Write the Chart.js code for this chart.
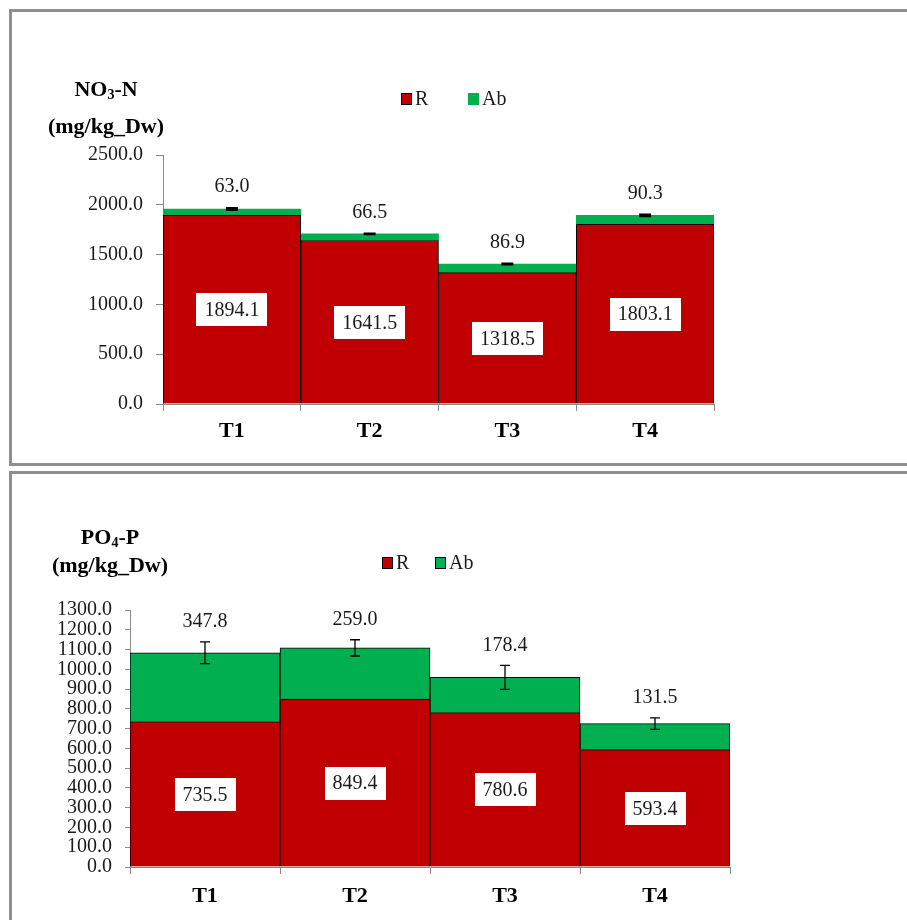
<!DOCTYPE html>
<html>
<head>
<meta charset="utf-8">
<script src="https://cdn.jsdelivr.net/npm/chart.js@4"></script>
<style>
  html, body { margin: 0; padding: 0; background: #fff; }
  body { width: 907px; height: 920px; position: relative; overflow: hidden; }
  canvas { position: absolute; left: 0; }
  #c1 { top: 0; }
  #c2 { top: 466px; }
  .panel { position: absolute; left: 9px; width: 1000px; border: 3px solid #8e8e8e; box-sizing: border-box; }
  #p1 { top: 9px; height: 457px; }
  #p2 { top: 471px; height: 500px; }
</style>
</head>
<body>
<canvas id="c1" width="907" height="466"></canvas>
<canvas id="c2" width="907" height="454"></canvas>
<div class="panel" id="p1"></div>
<div class="panel" id="p2"></div>
<script>
// Treatments on the x axis
const categories = ['T1', 'T2', 'T3', 'T4'];
const seriesNames = ['R', 'Ab'];

// NO3-N (mg/kg dry weight)
const no3R   = [1894.1, 1641.5, 1318.5, 1803.1];
const no3Ab  = [63.0, 66.5, 86.9, 90.3];
const no3Err = [10, 3, 4, 8];
const no3Ticks = { min: 0, max: 2500, step: 500 };

// PO4-P (mg/kg dry weight)
const po4R   = [735.5, 849.4, 780.6, 593.4];
const po4Ab  = [347.8, 259.0, 178.4, 131.5];
const po4Err = [55, 41, 61, 29];
const po4Ticks = { min: 0, max: 1300, step: 100 };

const RED = '#C00000';
const GREEN = '#00B050';
const AXIS = '#8a8a8a';
const TEXT = '#1a1a1a';
const SERIF = '"Liberation Serif", "Times New Roman", serif';

function drawChem(ctx, parts, cx, cy, size) {
  // parts: [text, isSubscript]
  const fontMain = 'bold ' + size + 'px ' + SERIF;
  const fontSub = 'bold ' + Math.round(size * 0.65) + 'px ' + SERIF;
  let total = 0;
  parts.forEach(p => { ctx.font = p[1] ? fontSub : fontMain; total += ctx.measureText(p[0]).width; });
  let x = cx - total / 2;
  ctx.textAlign = 'left';
  ctx.textBaseline = 'middle';
  parts.forEach(p => {
    ctx.font = p[1] ? fontSub : fontMain;
    ctx.fillText(p[0], x, p[1] ? cy + 5 : cy);
    x += ctx.measureText(p[0]).width;
  });
}

function makeChart(id, opts) {
  const annot = {
    id: 'annot',
    afterDatasetsDraw(chart) {
      const ctx = chart.ctx;
      const xs = chart.scales.x, ys = chart.scales.y;
      ctx.save();
      categories.forEach((c, i) => {
        const x = xs.getPixelForValue(i);
        const top = opts.r[i] + opts.ab[i];
        const yHi = ys.getPixelForValue(top + opts.err[i]);
        const yLo = ys.getPixelForValue(top - opts.err[i]);
        // error bar
        ctx.strokeStyle = '#000';
        ctx.lineWidth = opts.errWidth;
        ctx.beginPath();
        ctx.moveTo(x, yHi); ctx.lineTo(x, yLo);
        ctx.moveTo(x - opts.cap / 2, yHi); ctx.lineTo(x + opts.cap / 2, yHi);
        ctx.moveTo(x - opts.cap / 2, yLo); ctx.lineTo(x + opts.cap / 2, yLo);
        ctx.stroke();
        // Ab value above the stack
        ctx.fillStyle = TEXT;
        ctx.font = '20px ' + SERIF;
        ctx.textAlign = 'center';
        ctx.textBaseline = 'middle';
        ctx.fillText(opts.ab[i].toFixed(1), x, yHi - opts.labelGap);
        // R value in a white box at the middle of the R segment
        const yMid = ys.getPixelForValue(opts.r[i] / 2);
        const txt = opts.r[i].toFixed(1);
        const w = ctx.measureText(txt).width + 16;
        const h = 33;
        ctx.fillStyle = '#fff';
        ctx.fillRect(Math.round(x - w / 2), Math.round(yMid - h / 2), Math.round(w), h);
        ctx.fillStyle = TEXT;
        ctx.fillText(txt, x, yMid + 1);
      });
      ctx.restore();
    },
    afterDraw(chart) {
      const ctx = chart.ctx;
      ctx.save();
      ctx.fillStyle = '#000';
      drawChem(ctx, opts.title, opts.titleX, opts.titleY1, 22);
      ctx.font = 'bold 22px ' + SERIF;
      ctx.textAlign = 'center';
      ctx.textBaseline = 'middle';
      ctx.fillText('(mg/kg_Dw)', opts.titleX, opts.titleY2);
      // legend
      chart.data.datasets.forEach((ds, k) => {
        const lg = opts.legend[k];
        ctx.fillStyle = ds.backgroundColor;
        ctx.fillRect(lg.x, opts.legendY - 6, 11, 12);
        if (ds.borderWidth > 0) {
          ctx.strokeStyle = '#000';
          ctx.lineWidth = 1;
          ctx.strokeRect(lg.x + 0.5, opts.legendY - 5.5, 10, 11);
        }
        ctx.fillStyle = TEXT;
        ctx.font = '20px ' + SERIF;
        ctx.textAlign = 'left';
        ctx.textBaseline = 'middle';
        ctx.fillText(ds.label, lg.x + 14, opts.legendY + 1);
      });
      ctx.restore();
    }
  };

  const canvas = document.getElementById(id);
  const H = canvas.height;
  return new Chart(canvas, {
    type: 'bar',
    data: {
      labels: categories,
      datasets: [
        { label: seriesNames[0], data: opts.r, backgroundColor: RED, borderColor: '#000', borderWidth: 1 },
        { label: seriesNames[1], data: opts.ab, backgroundColor: GREEN, borderColor: '#000', borderWidth: opts.abBorder }
      ]
    },
    options: {
      responsive: false,
      animation: false,
      devicePixelRatio: 1,
      layout: { padding: { top: opts.area.top, right: 907 - opts.area.right, left: 0, bottom: 0 } },
      datasets: { bar: { barPercentage: 1, categoryPercentage: 1 } },
      plugins: { legend: { display: false }, tooltip: { enabled: false } },
      scales: {
        x: {
          stacked: true,
          offset: true,
          afterFit(s) { s.height = H - opts.area.bottom; },
          grid: { display: true, offset: true, drawOnChartArea: false, drawTicks: true, tickLength: 7, color: AXIS },
          border: { display: true, color: AXIS, width: 1 },
          ticks: { color: '#000', padding: opts.xPad, font: { family: SERIF, size: 22, weight: 'bold' } }
        },
        y: {
          stacked: true,
          min: opts.ticks.min,
          max: opts.ticks.max,
          afterFit(s) { s.width = opts.area.left; },
          grid: { display: true, drawOnChartArea: false, drawTicks: true, tickLength: opts.yTick, color: AXIS },
          border: { display: true, color: AXIS, width: 1 },
          ticks: {
            stepSize: opts.ticks.step,
            autoSkip: false,
            padding: 13,
            color: TEXT,
            font: { family: SERIF, size: 20 },
            callback: v => Number(v).toFixed(1)
          }
        }
      }
    },
    plugins: [annot]
  });
}

makeChart('c1', {
  r: no3R, ab: no3Ab, err: no3Err, ticks: no3Ticks,
  area: { left: 163, right: 714, top: 155, bottom: 404 },
  abBorder: 0, errWidth: 2, cap: 12, labelGap: 21, xPad: 7, yTick: 7,
  title: [['NO', false], ['3', true], ['-N', false]],
  titleX: 106, titleY1: 90, titleY2: 127,
  legendY: 99, legend: [{ x: 401 }, { x: 468 }]
});

makeChart('c2', {
  r: po4R, ab: po4Ab, err: po4Err, ticks: po4Ticks,
  area: { left: 130, right: 730, top: 144, bottom: 401 },
  abBorder: 1, errWidth: 1.3, cap: 10, labelGap: 20, xPad: 9, yTick: 5,
  title: [['PO', false], ['4', true], ['-P', false]],
  titleX: 110, titleY1: 72, titleY2: 100,
  legendY: 97, legend: [{ x: 382 }, { x: 435 }]
});
</script>
</body>
</html>
